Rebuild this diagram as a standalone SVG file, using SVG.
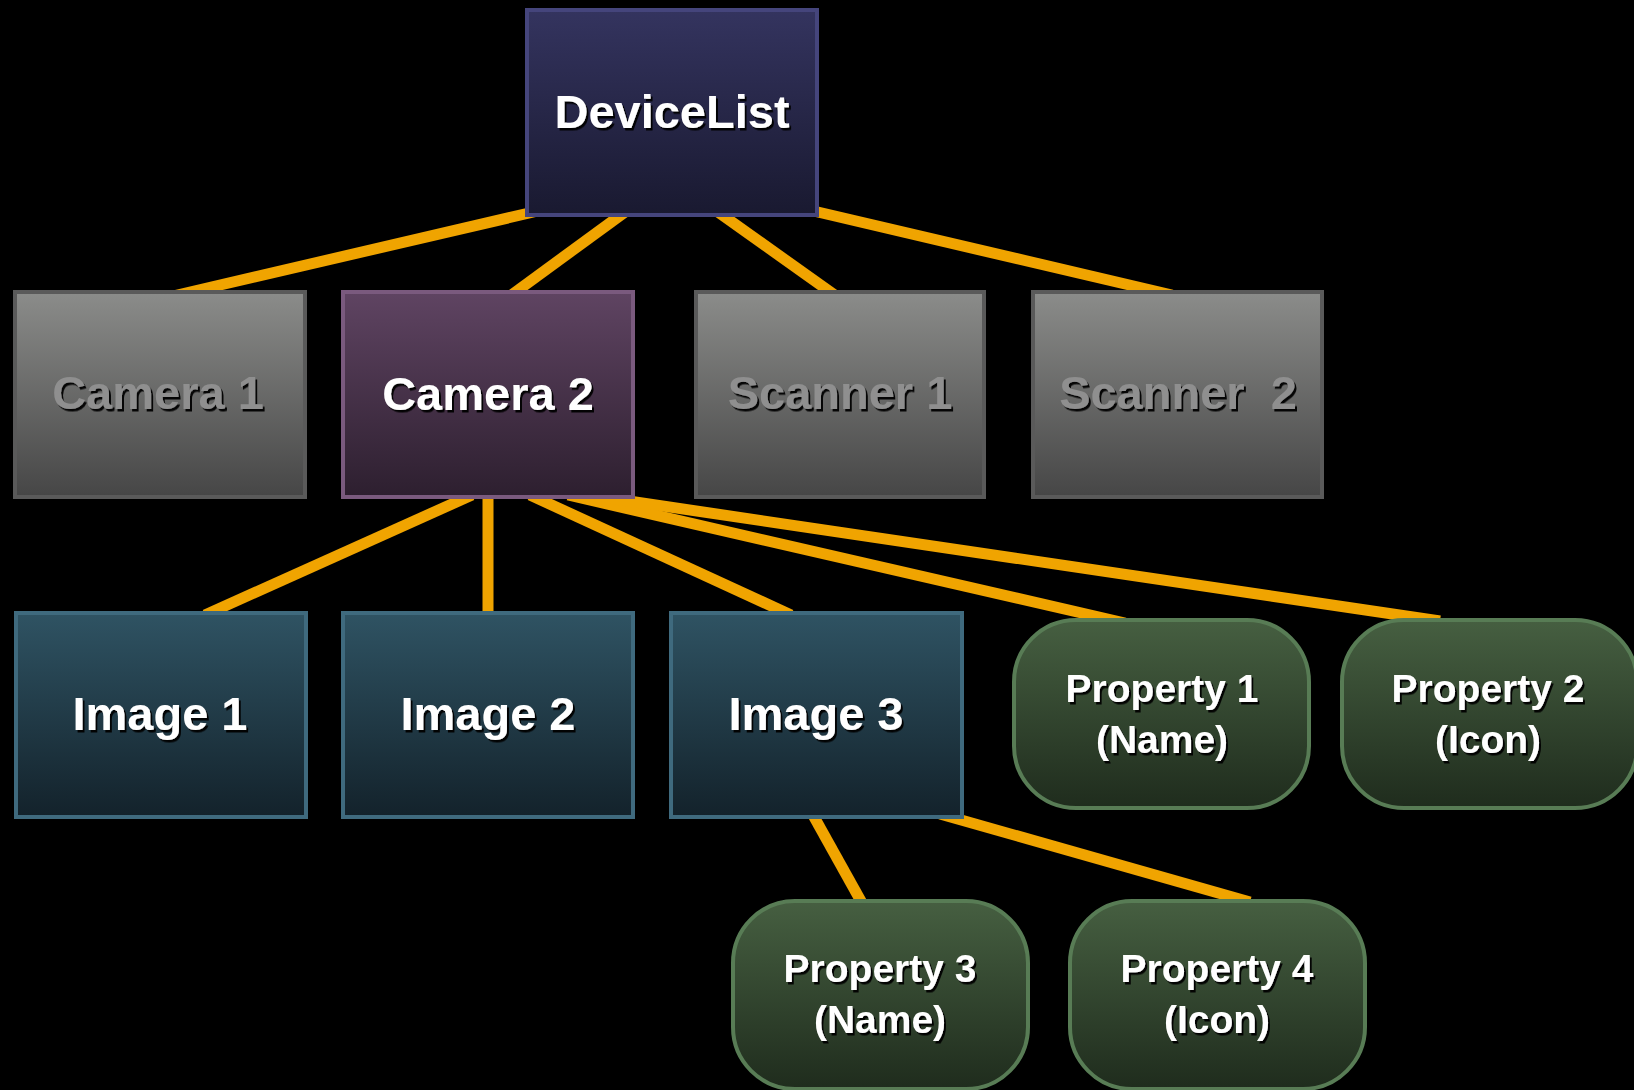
<svg xmlns="http://www.w3.org/2000/svg" width="1634" height="1090" viewBox="0 0 1634 1090">
  <defs>
    <linearGradient id="gNavy" x1="0" y1="0" x2="0" y2="1">
      <stop offset="0" stop-color="#34345f"/>
      <stop offset="1" stop-color="#191930"/>
    </linearGradient>
    <linearGradient id="gGray" x1="0" y1="0" x2="0" y2="1">
      <stop offset="0" stop-color="#8b8c8a"/>
      <stop offset="1" stop-color="#464646"/>
    </linearGradient>
    <linearGradient id="gPlum" x1="0" y1="0" x2="0" y2="1">
      <stop offset="0" stop-color="#5f4462"/>
      <stop offset="1" stop-color="#2d1f2f"/>
    </linearGradient>
    <linearGradient id="gTeal" x1="0" y1="0" x2="0" y2="1">
      <stop offset="0" stop-color="#2f5363"/>
      <stop offset="1" stop-color="#13222b"/>
    </linearGradient>
    <linearGradient id="gGreen" x1="0" y1="0" x2="0" y2="1">
      <stop offset="0" stop-color="#465f41"/>
      <stop offset="1" stop-color="#1f2c1d"/>
    </linearGradient>
    <filter id="shadow" x="-10%" y="-20%" width="130%" height="150%">
      <feDropShadow dx="2" dy="2.5" stdDeviation="0.6" flood-color="#000" flood-opacity="0.95"/>
    </filter>
    <style>
      .edge { stroke: #f0a400; stroke-width: 11; fill: none; }
      .box { stroke-width: 4; }
      .navy { fill: url(#gNavy); stroke: #45457c; }
      .gray { fill: url(#gGray); stroke: #5a5a5a; }
      .plum { fill: url(#gPlum); stroke: #7a5a7e; }
      .teal { fill: url(#gTeal); stroke: #3f6a7e; }
      .green { fill: url(#gGreen); stroke: #587c55; }
      .lbl { font-family: "Liberation Sans", Arial, sans-serif; font-weight: bold; text-anchor: middle; filter: url(#shadow); }
      .big { font-size: 47px; }
      .small { font-size: 39px; }
      .white { fill: #ffffff; }
      .dim { fill: #8f8f8f; }
    </style>
  </defs>

  <rect width="1634" height="1090" fill="#000"/>

  <!-- connectors, drawn beneath the nodes -->
  <g id="connectors">
    <line class="edge" x1="540" y1="210.5" x2="173" y2="296"/>
    <line class="edge" x1="625" y1="212" x2="510" y2="296"/>
    <line class="edge" x1="718" y1="212" x2="836" y2="296"/>
    <line class="edge" x1="805" y1="209" x2="1172" y2="295"/>
    <line class="edge" x1="472" y1="495" x2="205" y2="615"/>
    <line class="edge" x1="488" y1="495" x2="488" y2="615"/>
    <line class="edge" x1="530" y1="495" x2="791" y2="615"/>
    <line class="edge" x1="568" y1="495" x2="1125" y2="623"/>
    <line class="edge" x1="595" y1="496" x2="1440" y2="621"/>
    <line class="edge" x1="813" y1="815" x2="862" y2="903"/>
    <line class="edge" x1="940" y1="814" x2="1250" y2="902"/>
  </g>

  <g id="devicelist">
    <rect class="box navy" x="527" y="10" width="290" height="205"/>
    <text class="lbl big white" x="672" y="128">DeviceList</text>
  </g>

  <g id="camera1">
    <rect class="box gray" x="15" y="292" width="290" height="205"/>
    <text class="lbl big dim" x="158" y="409">Camera 1</text>
  </g>

  <g id="camera2">
    <rect class="box plum" x="343" y="292" width="290" height="205"/>
    <text class="lbl big white" x="488" y="410">Camera 2</text>
  </g>

  <g id="scanner1">
    <rect class="box gray" x="696" y="292" width="288" height="205"/>
    <text class="lbl big dim" x="840" y="409">Scanner 1</text>
  </g>

  <g id="scanner2">
    <rect class="box gray" x="1033" y="292" width="289" height="205"/>
    <text class="lbl big dim" x="1178" y="409" xml:space="preserve">Scanner  2</text>
  </g>

  <g id="image1">
    <rect class="box teal" x="16" y="613" width="290" height="204"/>
    <text class="lbl big white" x="160" y="730">Image 1</text>
  </g>

  <g id="image2">
    <rect class="box teal" x="343" y="613" width="290" height="204"/>
    <text class="lbl big white" x="488" y="730">Image 2</text>
  </g>

  <g id="image3">
    <rect class="box teal" x="671" y="613" width="291" height="204"/>
    <text class="lbl big white" x="816" y="730">Image 3</text>
  </g>

  <g id="property1">
    <rect class="box green" x="1014" y="620" width="295" height="188" rx="62" ry="62"/>
    <text class="lbl small white" x="1162" y="702">Property 1</text>
    <text class="lbl small white" x="1162" y="753">(Name)</text>
  </g>

  <g id="property2">
    <rect class="box green" x="1342" y="620" width="295" height="188" rx="62" ry="62"/>
    <text class="lbl small white" x="1488" y="702">Property 2</text>
    <text class="lbl small white" x="1488" y="753">(Icon)</text>
  </g>

  <g id="property3">
    <rect class="box green" x="733" y="901" width="295" height="188" rx="62" ry="62"/>
    <text class="lbl small white" x="880" y="982">Property 3</text>
    <text class="lbl small white" x="880" y="1033">(Name)</text>
  </g>

  <g id="property4">
    <rect class="box green" x="1070" y="901" width="295" height="188" rx="62" ry="62"/>
    <text class="lbl small white" x="1217" y="982">Property 4</text>
    <text class="lbl small white" x="1217" y="1033">(Icon)</text>
  </g>
</svg>
